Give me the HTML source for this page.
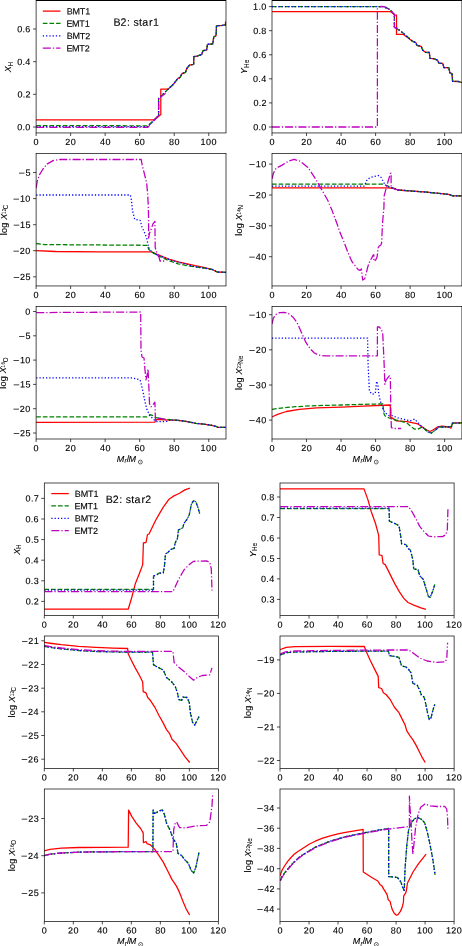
<!DOCTYPE html>
<html><head><meta charset="utf-8"><title>chart</title><style>html,body{margin:0;padding:0;background:#fff;width:462px;height:946px;overflow:hidden;}svg text{stroke:#000;stroke-width:0.12px;stroke-linejoin:round;}</style></head><body>
<svg width="462" height="946" viewBox="0 0 462 946" style="display:block;will-change:transform;font-family:'Liberation Sans', sans-serif;" fill="#000">
<rect x="0" y="0" width="462" height="946" fill="#fff"/>
<defs>
<clipPath id="c0"><rect x="36.1" y="0.55" width="189.90" height="132.40"/></clipPath>
<clipPath id="c1"><rect x="272.0" y="0.55" width="189.90" height="132.40"/></clipPath>
<clipPath id="c2"><rect x="36.1" y="153.45" width="189.90" height="132.50"/></clipPath>
<clipPath id="c3"><rect x="272.0" y="153.45" width="189.90" height="132.50"/></clipPath>
<clipPath id="c4"><rect x="36.1" y="306.4" width="189.90" height="132.60"/></clipPath>
<clipPath id="c5"><rect x="272.0" y="306.4" width="189.90" height="132.60"/></clipPath>
<clipPath id="c6"><rect x="44.3" y="483.0" width="174.10" height="132.50"/></clipPath>
<clipPath id="c7"><rect x="280.0" y="483.0" width="174.10" height="132.50"/></clipPath>
<clipPath id="c8"><rect x="44.3" y="636.0" width="174.10" height="132.40"/></clipPath>
<clipPath id="c9"><rect x="280.0" y="636.0" width="174.10" height="132.40"/></clipPath>
<clipPath id="c10"><rect x="44.3" y="789.0" width="174.10" height="132.40"/></clipPath>
<clipPath id="c11"><rect x="280.0" y="789.0" width="174.10" height="132.40"/></clipPath>
</defs>
<g clip-path="url(#c0)" fill="none" stroke-width="1.27" stroke-linejoin="round">
<polyline points="36.2,119.8 154.7,119.8 160.8,114.6 160.8,89.1 167.7,89.1 168.0,89.3 173.2,84.5 175.2,81.8 178.0,78.4 180.0,77.5 182.0,73.6 185.5,72.3 186.8,68.5 189.5,65.2 193.6,64.4 193.9,56.6 197.0,56.2 201.8,54.3 202.9,50.7 206.6,50.2 207.5,44.3 212.7,43.9 213.8,36.8 216.1,35.7 216.5,25.9 222.3,25.4 225.4,24.8 225.6,21.8 226.5,21.8" stroke="#ff0000" stroke-linecap="square"/>
<polyline points="36.2,125.6 147.8,125.8 158.6,115.5 158.6,98.6 168.0,89.3 173.2,84.5 175.2,81.8 178.0,78.4 180.0,77.5 182.0,73.6 185.5,72.3 186.8,68.5 189.5,65.2 193.6,64.4 193.9,56.6 197.0,56.2 201.8,54.3 202.9,50.7 206.6,50.2 207.5,44.3 212.7,43.9 213.8,36.8 216.1,35.7 216.5,25.9 222.3,25.4 225.4,24.8 226.5,24.8" stroke="#008000" stroke-dasharray="4.65 2.0"/>
<polyline points="36.2,126.6 147.8,126.6 158.6,115.5 158.6,98.6 168.0,89.3 173.2,84.5 175.2,81.8 178.0,78.4 180.0,77.5 182.0,73.6 185.5,72.3 186.8,68.5 189.5,65.2 193.6,64.4 193.9,56.6 197.0,56.2 201.8,54.3 202.9,50.7 206.6,50.2 207.5,44.3 212.7,43.9 213.8,36.8 216.1,35.7 216.5,25.9 222.3,25.4 225.4,24.8 226.5,24.8" stroke="#0000ff" stroke-dasharray="1.26 2.0"/>
<polyline points="36.2,127.3 147.8,127.3 158.6,115.3 158.6,98.6 165.6,93.2" stroke="#bf00bf" stroke-dasharray="8.05 2.0 1.26 2.0"/>
</g>
<rect x="36.1" y="0.55" width="189.90" height="132.40" fill="none" stroke="#000" stroke-width="0.7"/>
<text transform="rotate(0.25 36.10 145.10)"><tspan x="33.60" y="145.10" font-size="9.01">0</tspan></text>
<text transform="rotate(0.25 70.63 145.10)"><tspan x="65.28" y="145.10" font-size="9.01">2</tspan><tspan x="70.80" y="145.10" font-size="9.01">0</tspan></text>
<text transform="rotate(0.25 105.15 145.10)"><tspan x="100.02" y="145.10" font-size="9.01">4</tspan><tspan x="105.43" y="145.10" font-size="9.01">0</tspan></text>
<text transform="rotate(0.25 139.68 145.10)"><tspan x="134.46" y="145.10" font-size="9.01">6</tspan><tspan x="139.86" y="145.10" font-size="9.01">0</tspan></text>
<text transform="rotate(0.25 174.21 145.10)"><tspan x="168.99" y="145.10" font-size="9.01">8</tspan><tspan x="174.40" y="145.10" font-size="9.01">0</tspan></text>
<text transform="rotate(0.25 208.74 145.10)"><tspan x="200.59" y="145.10" font-size="9.01">1</tspan><tspan x="206.05" y="145.10" font-size="9.01">0</tspan><tspan x="211.45" y="145.10" font-size="9.01">0</tspan></text>
<text transform="rotate(0.25 30.00 130.25)"><tspan x="17.24" y="130.25" font-size="9.01">0</tspan><tspan x="22.55" y="130.25" font-size="9.01">.</tspan><tspan x="25.35" y="130.25" font-size="9.01">0</tspan></text>
<text transform="rotate(0.25 30.00 97.55)"><tspan x="17.53" y="97.55" font-size="9.01">0</tspan><tspan x="22.84" y="97.55" font-size="9.01">.</tspan><tspan x="25.53" y="97.55" font-size="9.01">2</tspan></text>
<text transform="rotate(0.25 30.00 64.95)"><tspan x="17.16" y="64.95" font-size="9.01">0</tspan><tspan x="22.46" y="64.95" font-size="9.01">.</tspan><tspan x="25.27" y="64.95" font-size="9.01">4</tspan></text>
<text transform="rotate(0.25 30.00 32.25)"><tspan x="17.21" y="32.25" font-size="9.01">0</tspan><tspan x="22.52" y="32.25" font-size="9.01">.</tspan><tspan x="25.33" y="32.25" font-size="9.01">6</tspan></text>
<path d="M36.10,132.95v3.06 M70.63,132.95v3.06 M105.15,132.95v3.06 M139.68,132.95v3.06 M174.21,132.95v3.06 M208.74,132.95v3.06 M36.1,127.0h-3.06 M36.1,94.3h-3.06 M36.1,61.7h-3.06 M36.1,29.0h-3.06" stroke="#000" stroke-width="0.7" fill="none"/>
<text transform="translate(11.4,72.4) rotate(-90)"><tspan x="0.11" y="0.00" font-size="9.01" font-style="italic">X</tspan><tspan x="6.02" y="1.60" font-size="6.30" stroke-width="0.056">H</tspan></text>
<g clip-path="url(#c1)" fill="none" stroke-width="1.27" stroke-linejoin="round">
<polyline points="271.8,11.7 390.6,11.7 395.4,15.2 396.5,15.2 396.5,34.4 403.5,34.4 412.2,41.1 415.8,42.6 416.9,45.3 421.2,46.4 422.8,50.2 425.5,52.3 429.3,52.5 429.9,58.3 433.6,58.6 437.4,60.1 439.1,63.4 442.8,63.4 443.9,67.5 448.8,67.7 449.9,72.9 452.0,73.7 452.6,81.3 458.5,81.5 462.5,82.8" stroke="#ff0000" stroke-linecap="square"/>
<polyline points="271.8,6.7 384.6,6.7 390.0,9.7 394.4,14.6 394.4,27.6 397.0,28.7 402.5,32.5 406.8,36.3 412.2,41.1 415.8,42.6 416.9,45.3 421.2,46.4 422.8,50.2 425.5,52.3 429.3,52.5 429.9,58.3 433.6,58.6 437.4,60.1 439.1,63.4 442.8,63.4 443.9,67.5 448.8,67.7 449.9,72.9 452.0,73.7 452.6,81.3 458.5,81.5 462.5,82.8" stroke="#008000" stroke-dasharray="4.65 2.0"/>
<polyline points="271.8,6.7 384.6,6.7 390.0,9.7 394.4,14.6 394.4,27.6 397.0,28.7 402.5,32.5 406.8,36.3 412.2,41.1 415.8,42.6 416.9,45.3 421.2,46.4 422.8,50.2 425.5,52.3 429.3,52.5 429.9,58.3 433.6,58.6 437.4,60.1 439.1,63.4 442.8,63.4 443.9,67.5 448.8,67.7 449.9,72.9 452.0,73.7 452.6,81.3 458.5,81.5 462.5,82.8" stroke="#0000ff" stroke-dasharray="1.26 2.0"/>
<polyline points="271.8,127.0 377.4,127.0 377.4,8.7 380.8,6.3 384.3,6.6 386.4,8.7 390.2,9.7 394.4,14.6 394.4,27.5 396.8,27.8 400.5,31.0" stroke="#bf00bf" stroke-dasharray="8.05 2.0 1.26 2.0"/>
</g>
<rect x="272.0" y="0.55" width="189.90" height="132.40" fill="none" stroke="#000" stroke-width="0.7"/>
<text transform="rotate(0.25 272.00 145.10)"><tspan x="269.50" y="145.10" font-size="9.01">0</tspan></text>
<text transform="rotate(0.25 306.53 145.10)"><tspan x="301.18" y="145.10" font-size="9.01">2</tspan><tspan x="306.70" y="145.10" font-size="9.01">0</tspan></text>
<text transform="rotate(0.25 341.05 145.10)"><tspan x="335.92" y="145.10" font-size="9.01">4</tspan><tspan x="341.33" y="145.10" font-size="9.01">0</tspan></text>
<text transform="rotate(0.25 375.58 145.10)"><tspan x="370.36" y="145.10" font-size="9.01">6</tspan><tspan x="375.76" y="145.10" font-size="9.01">0</tspan></text>
<text transform="rotate(0.25 410.11 145.10)"><tspan x="404.89" y="145.10" font-size="9.01">8</tspan><tspan x="410.30" y="145.10" font-size="9.01">0</tspan></text>
<text transform="rotate(0.25 444.64 145.10)"><tspan x="436.49" y="145.10" font-size="9.01">1</tspan><tspan x="441.95" y="145.10" font-size="9.01">0</tspan><tspan x="447.35" y="145.10" font-size="9.01">0</tspan></text>
<text transform="rotate(0.25 265.90 130.25)"><tspan x="253.14" y="130.25" font-size="9.01">0</tspan><tspan x="258.45" y="130.25" font-size="9.01">.</tspan><tspan x="261.25" y="130.25" font-size="9.01">0</tspan></text>
<text transform="rotate(0.25 265.90 106.15)"><tspan x="253.43" y="106.15" font-size="9.01">0</tspan><tspan x="258.74" y="106.15" font-size="9.01">.</tspan><tspan x="261.43" y="106.15" font-size="9.01">2</tspan></text>
<text transform="rotate(0.25 265.90 82.05)"><tspan x="253.06" y="82.05" font-size="9.01">0</tspan><tspan x="258.36" y="82.05" font-size="9.01">.</tspan><tspan x="261.17" y="82.05" font-size="9.01">4</tspan></text>
<text transform="rotate(0.25 265.90 58.05)"><tspan x="253.11" y="58.05" font-size="9.01">0</tspan><tspan x="258.42" y="58.05" font-size="9.01">.</tspan><tspan x="261.23" y="58.05" font-size="9.01">6</tspan></text>
<text transform="rotate(0.25 265.90 33.95)"><tspan x="253.16" y="33.95" font-size="9.01">0</tspan><tspan x="258.47" y="33.95" font-size="9.01">.</tspan><tspan x="261.27" y="33.95" font-size="9.01">8</tspan></text>
<text transform="rotate(0.25 265.90 9.85)"><tspan x="253.10" y="9.85" font-size="9.01">1</tspan><tspan x="258.45" y="9.85" font-size="9.01">.</tspan><tspan x="261.25" y="9.85" font-size="9.01">0</tspan></text>
<path d="M272.00,132.95v3.06 M306.53,132.95v3.06 M341.05,132.95v3.06 M375.58,132.95v3.06 M410.11,132.95v3.06 M444.64,132.95v3.06 M272.0,127.0h-3.06 M272.0,102.9h-3.06 M272.0,78.8h-3.06 M272.0,54.8h-3.06 M272.0,30.7h-3.06 M272.0,6.6h-3.06" stroke="#000" stroke-width="0.7" fill="none"/>
<text transform="translate(247.1,72.9) rotate(-90)"><tspan x="-1.14" y="0.00" font-size="9.01" font-style="italic">Y</tspan><tspan x="4.98" y="1.70" font-size="6.30" stroke-width="0.056">H</tspan><tspan x="9.59" y="1.70" font-size="6.30" stroke-width="0.056">e</tspan></text>
<g clip-path="url(#c2)" fill="none" stroke-width="1.27" stroke-linejoin="round">
<polyline points="36.2,250.6 55.6,251.5 99.0,251.8 151.4,251.8 157.1,254.3 168.6,259.0 178.1,261.9 189.5,264.4 195.2,265.7 204.8,267.6 212.4,269.5 217.1,272.0 226.5,272.4" stroke="#ff0000" stroke-linecap="square"/>
<polyline points="36.2,243.5 44.8,244.6 147.6,245.3 148.6,249.1 151.4,251.8 159.0,256.2 168.6,260.6 178.1,263.8 187.6,265.7 193.3,266.7 204.8,268.2 212.4,269.5 217.1,272.0 226.5,272.4" stroke="#008000" stroke-dasharray="4.65 2.0"/>
<polyline points="36.2,195.0 130.3,195.0 131.4,199.8 132.5,210.6 134.7,219.3 140.1,220.3 141.9,226.7 144.8,233.3 146.7,238.1 148.6,247.6 151.4,251.4 157.1,255.2 162.9,257.1 172.4,260.6 181.9,262.9 193.3,266.3 204.8,268.2 212.4,269.5 217.1,272.0 226.5,272.4" stroke="#0000ff" stroke-dasharray="1.26 2.0"/>
<polyline points="36.2,187.9 37.2,181.4 39.4,174.9 42.7,169.5 47.0,164.1 53.5,160.4 60.0,159.5 141.2,159.5 142.2,165.2 144.4,173.8 146.6,182.5 147.6,193.3 148.3,206.3 148.6,219.3 148.6,238.1 149.5,233.3 151.4,228.6 153.0,223.8 154.9,221.3 155.2,247.6 157.1,253.3 159.0,257.1 160.0,261.0 164.8,261.0" stroke="#bf00bf" stroke-dasharray="8.05 2.0 1.26 2.0"/>
</g>
<rect x="36.1" y="153.45" width="189.90" height="132.50" fill="none" stroke="#000" stroke-width="0.7"/>
<text transform="rotate(0.25 36.10 298.10)"><tspan x="33.60" y="298.10" font-size="9.01">0</tspan></text>
<text transform="rotate(0.25 70.63 298.10)"><tspan x="65.28" y="298.10" font-size="9.01">2</tspan><tspan x="70.80" y="298.10" font-size="9.01">0</tspan></text>
<text transform="rotate(0.25 105.15 298.10)"><tspan x="100.02" y="298.10" font-size="9.01">4</tspan><tspan x="105.43" y="298.10" font-size="9.01">0</tspan></text>
<text transform="rotate(0.25 139.68 298.10)"><tspan x="134.46" y="298.10" font-size="9.01">6</tspan><tspan x="139.86" y="298.10" font-size="9.01">0</tspan></text>
<text transform="rotate(0.25 174.21 298.10)"><tspan x="168.99" y="298.10" font-size="9.01">8</tspan><tspan x="174.40" y="298.10" font-size="9.01">0</tspan></text>
<text transform="rotate(0.25 208.74 298.10)"><tspan x="200.59" y="298.10" font-size="9.01">1</tspan><tspan x="206.05" y="298.10" font-size="9.01">0</tspan><tspan x="211.45" y="298.10" font-size="9.01">0</tspan></text>
<text transform="rotate(0.25 30.00 175.75)"><tspan x="18.57" y="176.73" font-size="10.95">−</tspan><tspan x="25.50" y="175.75" font-size="9.01">5</tspan></text>
<text transform="rotate(0.25 30.00 201.85)"><tspan x="12.99" y="202.83" font-size="10.95">−</tspan><tspan x="19.90" y="201.85" font-size="9.01">1</tspan><tspan x="25.35" y="201.85" font-size="9.01">0</tspan></text>
<text transform="rotate(0.25 30.00 227.95)"><tspan x="13.17" y="228.93" font-size="10.95">−</tspan><tspan x="20.08" y="227.95" font-size="9.01">1</tspan><tspan x="25.50" y="227.95" font-size="9.01">5</tspan></text>
<text transform="rotate(0.25 30.00 253.95)"><tspan x="12.99" y="254.93" font-size="10.95">−</tspan><tspan x="19.83" y="253.95" font-size="9.01">2</tspan><tspan x="25.35" y="253.95" font-size="9.01">0</tspan></text>
<text transform="rotate(0.25 30.00 280.05)"><tspan x="13.17" y="281.03" font-size="10.95">−</tspan><tspan x="20.01" y="280.05" font-size="9.01">2</tspan><tspan x="25.50" y="280.05" font-size="9.01">5</tspan></text>
<path d="M36.10,285.95v3.06 M70.63,285.95v3.06 M105.15,285.95v3.06 M139.68,285.95v3.06 M174.21,285.95v3.06 M208.74,285.95v3.06 M36.1,172.5h-3.06 M36.1,198.6h-3.06 M36.1,224.7h-3.06 M36.1,250.7h-3.06 M36.1,276.8h-3.06" stroke="#000" stroke-width="0.7" fill="none"/>
<text transform="translate(6.8,234.6) rotate(-90)"><tspan x="-0.62" y="0.00" font-size="9.01">l</tspan><tspan x="1.66" y="0.00" font-size="9.01">o</tspan><tspan x="6.90" y="0.00" font-size="9.01">g</tspan><tspan x="14.81" y="0.00" font-size="9.01" font-style="italic">X</tspan><tspan x="20.69" y="-1.10" font-size="4.66" stroke-width="0.031">1</tspan><tspan x="23.46" y="-1.10" font-size="4.66" stroke-width="0.031">2</tspan><tspan x="25.46" y="1.20" font-size="6.30" stroke-width="0.056">C</tspan></text>
<g clip-path="url(#c3)" fill="none" stroke-width="1.27" stroke-linejoin="round">
<polyline points="272.0,187.8 388.0,187.8 394.5,188.5 397.7,190.0 427.0,192.2 448.6,194.4 452.9,195.9 462.5,195.9" stroke="#ff0000" stroke-linecap="square"/>
<polyline points="272.0,184.1 383.6,184.1 386.9,185.7 392.3,187.9 394.5,188.5 397.7,190.0 427.0,192.2 448.6,194.4 452.9,195.9 462.5,195.9" stroke="#008000" stroke-dasharray="4.65 2.0"/>
<polyline points="272.0,186.1 364.2,186.1 367.4,179.2 371.7,177.1 378.2,175.5 381.5,177.7 383.6,182.5 386.9,186.4 394.5,188.5 397.7,190.0 427.0,192.2 448.6,194.4 452.9,195.9 462.5,195.9" stroke="#0000ff" stroke-dasharray="1.26 2.0"/>
<polyline points="272.0,178.8 273.5,173.0 276.1,168.2 282.1,165.1 288.2,161.3 294.2,159.4 300.3,161.3 307.9,167.4 315.5,178.8 321.5,189.4 327.6,200.0 332.1,210.6 337.3,224.5 340.0,232.6 343.9,241.7 347.8,252.1 351.7,261.2 355.6,266.4 358.2,269.6 360.1,270.3 361.4,269.0 362.1,275.5 362.7,280.0 364.7,278.7 366.0,274.2 367.9,266.4 369.9,261.2 371.8,257.9 373.1,255.3 373.8,254.7 374.0,261.2 375.7,259.9 377.0,257.3 377.7,252.1 377.9,248.2 379.0,246.2 380.9,244.9 381.6,243.0 381.8,239.1 382.2,230.0 382.8,220.0 383.9,208.0 384.2,195.7 386.6,186.7 388.3,180.5 390.4,173.5 391.1,173.2 391.1,186.7 394.5,189.1 400.8,190.2" stroke="#bf00bf" stroke-dasharray="8.05 2.0 1.26 2.0"/>
</g>
<rect x="272.0" y="153.45" width="189.90" height="132.50" fill="none" stroke="#000" stroke-width="0.7"/>
<text transform="rotate(0.25 272.00 298.10)"><tspan x="269.50" y="298.10" font-size="9.01">0</tspan></text>
<text transform="rotate(0.25 306.53 298.10)"><tspan x="301.18" y="298.10" font-size="9.01">2</tspan><tspan x="306.70" y="298.10" font-size="9.01">0</tspan></text>
<text transform="rotate(0.25 341.05 298.10)"><tspan x="335.92" y="298.10" font-size="9.01">4</tspan><tspan x="341.33" y="298.10" font-size="9.01">0</tspan></text>
<text transform="rotate(0.25 375.58 298.10)"><tspan x="370.36" y="298.10" font-size="9.01">6</tspan><tspan x="375.76" y="298.10" font-size="9.01">0</tspan></text>
<text transform="rotate(0.25 410.11 298.10)"><tspan x="404.89" y="298.10" font-size="9.01">8</tspan><tspan x="410.30" y="298.10" font-size="9.01">0</tspan></text>
<text transform="rotate(0.25 444.64 298.10)"><tspan x="436.49" y="298.10" font-size="9.01">1</tspan><tspan x="441.95" y="298.10" font-size="9.01">0</tspan><tspan x="447.35" y="298.10" font-size="9.01">0</tspan></text>
<text transform="rotate(0.25 265.90 167.35)"><tspan x="248.89" y="168.33" font-size="10.95">−</tspan><tspan x="255.80" y="167.35" font-size="9.01">1</tspan><tspan x="261.25" y="167.35" font-size="9.01">0</tspan></text>
<text transform="rotate(0.25 265.90 198.25)"><tspan x="248.89" y="199.23" font-size="10.95">−</tspan><tspan x="255.73" y="198.25" font-size="9.01">2</tspan><tspan x="261.25" y="198.25" font-size="9.01">0</tspan></text>
<text transform="rotate(0.25 265.90 229.05)"><tspan x="248.89" y="230.03" font-size="10.95">−</tspan><tspan x="255.86" y="229.05" font-size="9.01">3</tspan><tspan x="261.25" y="229.05" font-size="9.01">0</tspan></text>
<text transform="rotate(0.25 265.90 259.95)"><tspan x="248.89" y="260.93" font-size="10.95">−</tspan><tspan x="255.85" y="259.95" font-size="9.01">4</tspan><tspan x="261.25" y="259.95" font-size="9.01">0</tspan></text>
<path d="M272.00,285.95v3.06 M306.53,285.95v3.06 M341.05,285.95v3.06 M375.58,285.95v3.06 M410.11,285.95v3.06 M444.64,285.95v3.06 M272.0,164.1h-3.06 M272.0,195.0h-3.06 M272.0,225.8h-3.06 M272.0,256.7h-3.06" stroke="#000" stroke-width="0.7" fill="none"/>
<text transform="translate(241.9,235.2) rotate(-90)"><tspan x="-0.62" y="0.00" font-size="9.01">l</tspan><tspan x="1.66" y="0.00" font-size="9.01">o</tspan><tspan x="6.90" y="0.00" font-size="9.01">g</tspan><tspan x="14.81" y="0.00" font-size="9.01" font-style="italic">X</tspan><tspan x="20.69" y="-1.10" font-size="4.66" stroke-width="0.031">1</tspan><tspan x="23.52" y="-1.10" font-size="4.66" stroke-width="0.031">4</tspan><tspan x="25.58" y="1.20" font-size="6.30" stroke-width="0.056">N</tspan></text>
<g clip-path="url(#c4)" fill="none" stroke-width="1.27" stroke-linejoin="round">
<polyline points="36.2,422.3 154.9,422.1 155.9,419.7 159.9,419.7 169.9,420.1 175.8,420.1 185.8,421.3 195.8,423.3 203.7,424.1 211.7,425.3 216.7,426.7 217.7,427.3 226.5,427.3" stroke="#ff0000" stroke-linecap="square"/>
<polyline points="36.2,416.8 147.0,416.8 150.0,414.7 152.9,415.7 155.9,417.7 165.9,419.3 175.8,420.1 185.8,421.3 195.8,423.3 203.7,424.1 211.7,425.3 216.7,426.7 217.7,427.3 226.5,427.3" stroke="#008000" stroke-dasharray="4.65 2.0"/>
<polyline points="36.2,377.9 131.4,377.9 136.8,379.0 140.0,379.9 141.0,382.9 143.0,391.8 145.0,401.8 147.0,409.8 150.0,415.7 153.9,419.7 156.9,421.7 161.9,421.7 167.9,421.3 169.9,420.1 175.8,420.1 185.8,421.3 195.8,423.3 203.7,424.1 211.7,425.3 216.7,426.7 217.7,427.3 226.5,427.3" stroke="#0000ff" stroke-dasharray="1.26 2.0"/>
<polyline points="36.2,312.6 140.7,312.0 141.0,350.0 142.0,357.0 144.0,358.0 145.0,370.0 146.0,379.9 147.0,375.9 148.0,368.9 148.5,379.9 149.0,389.8 149.5,403.8 151.0,406.8 153.0,404.8 154.9,402.2 155.3,415.7 155.5,421.7 156.9,418.7 159.9,418.1 165.9,419.7" stroke="#bf00bf" stroke-dasharray="8.05 2.0 1.26 2.0"/>
</g>
<rect x="36.1" y="306.4" width="189.90" height="132.60" fill="none" stroke="#000" stroke-width="0.7"/>
<text transform="rotate(0.25 36.10 451.15)"><tspan x="33.60" y="451.15" font-size="9.01">0</tspan></text>
<text transform="rotate(0.25 70.63 451.15)"><tspan x="65.28" y="451.15" font-size="9.01">2</tspan><tspan x="70.80" y="451.15" font-size="9.01">0</tspan></text>
<text transform="rotate(0.25 105.15 451.15)"><tspan x="100.02" y="451.15" font-size="9.01">4</tspan><tspan x="105.43" y="451.15" font-size="9.01">0</tspan></text>
<text transform="rotate(0.25 139.68 451.15)"><tspan x="134.46" y="451.15" font-size="9.01">6</tspan><tspan x="139.86" y="451.15" font-size="9.01">0</tspan></text>
<text transform="rotate(0.25 174.21 451.15)"><tspan x="168.99" y="451.15" font-size="9.01">8</tspan><tspan x="174.40" y="451.15" font-size="9.01">0</tspan></text>
<text transform="rotate(0.25 208.74 451.15)"><tspan x="200.59" y="451.15" font-size="9.01">1</tspan><tspan x="206.05" y="451.15" font-size="9.01">0</tspan><tspan x="211.45" y="451.15" font-size="9.01">0</tspan></text>
<text transform="rotate(0.25 30.00 314.75)"><tspan x="25.35" y="314.75" font-size="9.01">0</tspan></text>
<text transform="rotate(0.25 30.00 339.05)"><tspan x="18.57" y="340.03" font-size="10.95">−</tspan><tspan x="25.50" y="339.05" font-size="9.01">5</tspan></text>
<text transform="rotate(0.25 30.00 363.35)"><tspan x="12.99" y="364.33" font-size="10.95">−</tspan><tspan x="19.90" y="363.35" font-size="9.01">1</tspan><tspan x="25.35" y="363.35" font-size="9.01">0</tspan></text>
<text transform="rotate(0.25 30.00 387.65)"><tspan x="13.17" y="388.63" font-size="10.95">−</tspan><tspan x="20.08" y="387.65" font-size="9.01">1</tspan><tspan x="25.50" y="387.65" font-size="9.01">5</tspan></text>
<text transform="rotate(0.25 30.00 411.95)"><tspan x="12.99" y="412.93" font-size="10.95">−</tspan><tspan x="19.83" y="411.95" font-size="9.01">2</tspan><tspan x="25.35" y="411.95" font-size="9.01">0</tspan></text>
<text transform="rotate(0.25 30.00 436.25)"><tspan x="13.17" y="437.23" font-size="10.95">−</tspan><tspan x="20.01" y="436.25" font-size="9.01">2</tspan><tspan x="25.50" y="436.25" font-size="9.01">5</tspan></text>
<path d="M36.10,439.0v3.06 M70.63,439.0v3.06 M105.15,439.0v3.06 M139.68,439.0v3.06 M174.21,439.0v3.06 M208.74,439.0v3.06 M36.1,311.5h-3.06 M36.1,335.8h-3.06 M36.1,360.1h-3.06 M36.1,384.4h-3.06 M36.1,408.7h-3.06 M36.1,433.0h-3.06" stroke="#000" stroke-width="0.7" fill="none"/>
<text transform="translate(6.4,388.1) rotate(-90)"><tspan x="-0.62" y="0.00" font-size="9.01">l</tspan><tspan x="1.66" y="0.00" font-size="9.01">o</tspan><tspan x="6.90" y="0.00" font-size="9.01">g</tspan><tspan x="14.81" y="0.00" font-size="9.01" font-style="italic">X</tspan><tspan x="20.69" y="-1.10" font-size="4.66" stroke-width="0.031">1</tspan><tspan x="23.52" y="-1.10" font-size="4.66" stroke-width="0.031">6</tspan><tspan x="25.75" y="1.20" font-size="6.30" stroke-width="0.056">O</tspan></text>
<text transform="translate(117.15,461.70)"><tspan x="-0.45" y="0.00" font-size="9.01" font-style="italic">M</tspan><tspan x="7.36" y="1.40" font-size="6.30" font-style="italic" stroke-width="0.056">r</tspan><tspan x="9.58" y="0.00" font-size="9.01">/</tspan><tspan x="11.35" y="0.00" font-size="9.01" font-style="italic">M</tspan></text><circle cx="140.35" cy="462.05" r="1.95" fill="none" stroke="#000" stroke-width="0.6"/><circle cx="140.35" cy="462.05" r="0.45"/>
<g clip-path="url(#c5)" fill="none" stroke-width="1.27" stroke-linejoin="round">
<polyline points="272.0,416.9 277.6,414.3 286.3,411.5 299.3,409.3 316.6,407.8 341.6,407.1 363.3,406.1 390.3,405.0 390.3,416.9 392.0,417.9 396.5,420.9 407.2,421.7 417.8,423.9 422.3,427.0 426.8,430.0 429.9,431.5 432.9,430.0 437.5,427.0 442.0,426.2 448.8,427.0 451.1,428.2 452.3,423.2 455.6,422.9 462.5,422.9" stroke="#ff0000" stroke-linecap="square"/>
<polyline points="272.0,409.3 284.1,407.8 295.0,406.7 316.6,405.6 341.6,405.0 363.3,404.3 382.8,403.9 383.9,413.6 384.9,415.8 391.4,419.0 399.6,420.9 407.2,423.2 411.7,427.0 414.7,429.2 417.8,429.2 422.3,427.0 428.4,432.3 431.4,433.0 434.4,430.8 439.0,427.0 448.1,427.0 451.8,426.2 452.6,423.2 462.5,422.9" stroke="#008000" stroke-dasharray="4.65 2.0"/>
<polyline points="272.0,338.1 367.6,338.1 368.1,364.9 369.4,390.9 371.9,394.2 375.2,393.5 376.7,381.2 378.0,386.6 378.9,395.2 380.6,401.7 382.8,408.2 384.9,412.6 389.3,415.8 392.0,415.6 398.1,417.9 404.1,419.4 410.2,420.9 414.7,419.1 417.0,421.7 422.3,427.0 428.4,432.3 431.4,433.0 434.4,430.8 439.0,427.0 448.1,427.0 451.8,426.2 452.6,423.2 462.5,422.9" stroke="#0000ff" stroke-dasharray="1.26 2.0"/>
<polyline points="272.0,323.8 273.3,318.4 275.5,314.7 279.8,312.6 284.1,312.3 288.4,313.4 292.8,316.9 297.1,322.7 301.4,332.5 305.8,342.2 310.1,348.7 314.4,353.0 318.7,355.2 325.2,355.8 377.4,355.8 377.4,327.0 379.5,327.0 381.7,330.3 382.8,334.6 383.9,358.4 384.9,384.4 386.0,380.1 389.3,375.8 390.3,377.9 391.0,416.9 391.4,427.7 393.6,428.5 401.2,428.5" stroke="#bf00bf" stroke-dasharray="8.05 2.0 1.26 2.0"/>
</g>
<rect x="272.0" y="306.4" width="189.90" height="132.60" fill="none" stroke="#000" stroke-width="0.7"/>
<text transform="rotate(0.25 272.00 451.15)"><tspan x="269.50" y="451.15" font-size="9.01">0</tspan></text>
<text transform="rotate(0.25 306.53 451.15)"><tspan x="301.18" y="451.15" font-size="9.01">2</tspan><tspan x="306.70" y="451.15" font-size="9.01">0</tspan></text>
<text transform="rotate(0.25 341.05 451.15)"><tspan x="335.92" y="451.15" font-size="9.01">4</tspan><tspan x="341.33" y="451.15" font-size="9.01">0</tspan></text>
<text transform="rotate(0.25 375.58 451.15)"><tspan x="370.36" y="451.15" font-size="9.01">6</tspan><tspan x="375.76" y="451.15" font-size="9.01">0</tspan></text>
<text transform="rotate(0.25 410.11 451.15)"><tspan x="404.89" y="451.15" font-size="9.01">8</tspan><tspan x="410.30" y="451.15" font-size="9.01">0</tspan></text>
<text transform="rotate(0.25 444.64 451.15)"><tspan x="436.49" y="451.15" font-size="9.01">1</tspan><tspan x="441.95" y="451.15" font-size="9.01">0</tspan><tspan x="447.35" y="451.15" font-size="9.01">0</tspan></text>
<text transform="rotate(0.25 265.90 317.95)"><tspan x="248.89" y="318.93" font-size="10.95">−</tspan><tspan x="255.80" y="317.95" font-size="9.01">1</tspan><tspan x="261.25" y="317.95" font-size="9.01">0</tspan></text>
<text transform="rotate(0.25 265.90 353.05)"><tspan x="248.89" y="354.03" font-size="10.95">−</tspan><tspan x="255.73" y="353.05" font-size="9.01">2</tspan><tspan x="261.25" y="353.05" font-size="9.01">0</tspan></text>
<text transform="rotate(0.25 265.90 388.25)"><tspan x="248.89" y="389.23" font-size="10.95">−</tspan><tspan x="255.86" y="388.25" font-size="9.01">3</tspan><tspan x="261.25" y="388.25" font-size="9.01">0</tspan></text>
<text transform="rotate(0.25 265.90 423.35)"><tspan x="248.89" y="424.33" font-size="10.95">−</tspan><tspan x="255.85" y="423.35" font-size="9.01">4</tspan><tspan x="261.25" y="423.35" font-size="9.01">0</tspan></text>
<path d="M272.00,439.0v3.06 M306.53,439.0v3.06 M341.05,439.0v3.06 M375.58,439.0v3.06 M410.11,439.0v3.06 M444.64,439.0v3.06 M272.0,314.7h-3.06 M272.0,349.8h-3.06 M272.0,385.0h-3.06 M272.0,420.1h-3.06" stroke="#000" stroke-width="0.7" fill="none"/>
<text transform="translate(241.8,389.4) rotate(-90)"><tspan x="-0.62" y="0.00" font-size="9.01">l</tspan><tspan x="1.66" y="0.00" font-size="9.01">o</tspan><tspan x="6.90" y="0.00" font-size="9.01">g</tspan><tspan x="14.81" y="0.00" font-size="9.01" font-style="italic">X</tspan><tspan x="20.82" y="-1.10" font-size="4.66" stroke-width="0.031">2</tspan><tspan x="23.62" y="-1.10" font-size="4.66" stroke-width="0.031">2</tspan><tspan x="25.55" y="1.20" font-size="6.30" stroke-width="0.056">N</tspan><tspan x="30.14" y="1.20" font-size="6.30" stroke-width="0.056">e</tspan></text>
<text transform="translate(353.05,461.70)"><tspan x="-0.45" y="0.00" font-size="9.01" font-style="italic">M</tspan><tspan x="7.36" y="1.40" font-size="6.30" font-style="italic" stroke-width="0.056">r</tspan><tspan x="9.58" y="0.00" font-size="9.01">/</tspan><tspan x="11.35" y="0.00" font-size="9.01" font-style="italic">M</tspan></text><circle cx="376.25" cy="462.05" r="1.95" fill="none" stroke="#000" stroke-width="0.6"/><circle cx="376.25" cy="462.05" r="0.45"/>
<g clip-path="url(#c6)" fill="none" stroke-width="1.27" stroke-linejoin="round">
<polyline points="44.4,609.2 128.2,609.2 131.9,597.0 135.2,584.1 139.5,573.2 142.7,564.6 143.4,542.9 146.0,542.5 147.5,534.7 149.2,533.8 152.5,526.7 155.7,520.2 159.0,514.4 163.3,507.2 168.7,499.6 173.0,496.4 179.5,493.2 184.9,489.9 189.3,488.4" stroke="#ff0000" stroke-linecap="square"/>
<polyline points="44.4,589.4 153.5,589.4 153.5,575.8 155.7,575.4 159.0,573.2 163.3,572.8 164.4,566.7 165.5,553.8 167.6,552.7 170.9,549.4 174.1,548.3 175.2,542.9 177.4,538.6 178.4,530.0 182.8,527.8 183.9,523.5 187.1,519.1 189.3,514.8 191.4,504.0 193.6,500.7 195.8,501.8 197.9,507.2 199.7,513.7" stroke="#008000" stroke-dasharray="4.65 2.0"/>
<polyline points="44.4,590.2 153.5,590.2 153.5,575.8 155.7,575.4 159.0,573.2 163.3,572.8 164.4,566.7 165.5,553.8 167.6,552.7 170.9,549.4 174.1,548.3 175.2,542.9 177.4,538.6 178.4,530.0 182.8,527.8 183.9,523.5 187.1,519.1 189.3,514.8 191.4,504.0 193.6,500.7 195.8,501.8 197.9,507.2 199.7,513.7" stroke="#0000ff" stroke-dasharray="1.26 2.0"/>
<polyline points="44.4,591.6 173.0,591.6 178.4,579.7 183.9,570.0 189.3,564.6 193.6,561.3 206.6,560.9 209.8,562.4 211.3,568.9 212.0,590.6" stroke="#bf00bf" stroke-dasharray="8.05 2.0 1.26 2.0"/>
</g>
<rect x="44.3" y="483.0" width="174.10" height="132.50" fill="none" stroke="#000" stroke-width="0.7"/>
<text transform="rotate(0.25 44.30 627.65)"><tspan x="41.80" y="627.65" font-size="9.01">0</tspan></text>
<text transform="rotate(0.25 73.32 627.65)"><tspan x="67.96" y="627.65" font-size="9.01">2</tspan><tspan x="73.49" y="627.65" font-size="9.01">0</tspan></text>
<text transform="rotate(0.25 102.33 627.65)"><tspan x="97.20" y="627.65" font-size="9.01">4</tspan><tspan x="102.61" y="627.65" font-size="9.01">0</tspan></text>
<text transform="rotate(0.25 131.35 627.65)"><tspan x="126.13" y="627.65" font-size="9.01">6</tspan><tspan x="131.53" y="627.65" font-size="9.01">0</tspan></text>
<text transform="rotate(0.25 160.37 627.65)"><tspan x="155.15" y="627.65" font-size="9.01">8</tspan><tspan x="160.56" y="627.65" font-size="9.01">0</tspan></text>
<text transform="rotate(0.25 189.38 627.65)"><tspan x="181.24" y="627.65" font-size="9.01">1</tspan><tspan x="186.69" y="627.65" font-size="9.01">0</tspan><tspan x="192.10" y="627.65" font-size="9.01">0</tspan></text>
<text transform="rotate(0.25 218.40 627.65)"><tspan x="210.25" y="627.65" font-size="9.01">1</tspan><tspan x="215.60" y="627.65" font-size="9.01">2</tspan><tspan x="221.12" y="627.65" font-size="9.01">0</tspan></text>
<text transform="rotate(0.25 38.20 604.65)"><tspan x="25.73" y="604.65" font-size="9.01">0</tspan><tspan x="31.04" y="604.65" font-size="9.01">.</tspan><tspan x="33.73" y="604.65" font-size="9.01">2</tspan></text>
<text transform="rotate(0.25 38.20 584.05)"><tspan x="25.56" y="584.05" font-size="9.01">0</tspan><tspan x="30.87" y="584.05" font-size="9.01">.</tspan><tspan x="33.68" y="584.05" font-size="9.01">3</tspan></text>
<text transform="rotate(0.25 38.20 563.45)"><tspan x="25.36" y="563.45" font-size="9.01">0</tspan><tspan x="30.66" y="563.45" font-size="9.01">.</tspan><tspan x="33.47" y="563.45" font-size="9.01">4</tspan></text>
<text transform="rotate(0.25 38.20 542.85)"><tspan x="25.62" y="542.85" font-size="9.01">0</tspan><tspan x="30.93" y="542.85" font-size="9.01">.</tspan><tspan x="33.70" y="542.85" font-size="9.01">5</tspan></text>
<text transform="rotate(0.25 38.20 522.25)"><tspan x="25.41" y="522.25" font-size="9.01">0</tspan><tspan x="30.72" y="522.25" font-size="9.01">.</tspan><tspan x="33.53" y="522.25" font-size="9.01">6</tspan></text>
<text transform="rotate(0.25 38.20 501.65)"><tspan x="25.61" y="501.65" font-size="9.01">0</tspan><tspan x="30.91" y="501.65" font-size="9.01">.</tspan><tspan x="33.70" y="501.65" font-size="9.01">7</tspan></text>
<path d="M44.30,615.5v3.06 M73.32,615.5v3.06 M102.33,615.5v3.06 M131.35,615.5v3.06 M160.37,615.5v3.06 M189.38,615.5v3.06 M218.40,615.5v3.06 M44.3,601.4h-3.06 M44.3,580.8h-3.06 M44.3,560.2h-3.06 M44.3,539.6h-3.06 M44.3,519.0h-3.06 M44.3,498.4h-3.06" stroke="#000" stroke-width="0.7" fill="none"/>
<text transform="translate(19.5,554.9) rotate(-90)"><tspan x="0.11" y="0.00" font-size="9.01" font-style="italic">X</tspan><tspan x="6.02" y="1.60" font-size="6.30" stroke-width="0.056">H</tspan></text>
<g clip-path="url(#c7)" fill="none" stroke-width="1.27" stroke-linejoin="round">
<polyline points="280.3,488.9 364.0,488.9 367.9,499.6 371.2,511.5 375.5,523.5 378.7,535.4 379.2,554.8 382.0,555.5 383.1,563.5 385.2,564.6 388.5,571.1 391.7,577.6 395.0,584.1 399.3,591.6 403.6,598.1 408.0,602.5 414.4,605.3 420.9,607.9 425.3,609.2" stroke="#ff0000" stroke-linecap="square"/>
<polyline points="280.3,508.7 389.1,508.7 389.4,521.2 393.8,523.0 399.0,525.6 400.7,536.0 401.6,543.8 405.9,544.6 408.5,548.9 410.2,549.8 411.9,555.9 412.8,559.3 413.7,568.8 418.0,569.7 419.7,575.8 423.2,579.2 425.8,587.9 428.4,596.5 430.2,597.4 432.7,591.3 434.8,584.4" stroke="#008000" stroke-dasharray="4.65 2.0"/>
<polyline points="280.3,508.2 389.1,508.2 389.4,521.2 393.8,523.0 399.0,525.6 400.7,536.0 401.6,543.8 405.9,544.6 408.5,548.9 410.2,549.8 411.9,555.9 412.8,559.3 413.7,568.8 418.0,569.7 419.7,575.8 423.2,579.2 425.8,587.9 428.4,596.5 430.2,597.4 432.7,591.3 434.8,584.4" stroke="#0000ff" stroke-dasharray="1.26 2.0"/>
<polyline points="280.3,506.6 408.5,506.6 412.0,511.7 415.4,517.8 419.7,526.4 424.1,531.6 428.4,536.0 432.7,536.8 442.6,536.6 445.8,534.7 447.3,530.0 448.0,507.2" stroke="#bf00bf" stroke-dasharray="8.05 2.0 1.26 2.0"/>
</g>
<rect x="280.0" y="483.0" width="174.10" height="132.50" fill="none" stroke="#000" stroke-width="0.7"/>
<text transform="rotate(0.25 280.00 627.65)"><tspan x="277.50" y="627.65" font-size="9.01">0</tspan></text>
<text transform="rotate(0.25 309.02 627.65)"><tspan x="303.66" y="627.65" font-size="9.01">2</tspan><tspan x="309.19" y="627.65" font-size="9.01">0</tspan></text>
<text transform="rotate(0.25 338.03 627.65)"><tspan x="332.90" y="627.65" font-size="9.01">4</tspan><tspan x="338.31" y="627.65" font-size="9.01">0</tspan></text>
<text transform="rotate(0.25 367.05 627.65)"><tspan x="361.83" y="627.65" font-size="9.01">6</tspan><tspan x="367.23" y="627.65" font-size="9.01">0</tspan></text>
<text transform="rotate(0.25 396.07 627.65)"><tspan x="390.85" y="627.65" font-size="9.01">8</tspan><tspan x="396.26" y="627.65" font-size="9.01">0</tspan></text>
<text transform="rotate(0.25 425.08 627.65)"><tspan x="416.94" y="627.65" font-size="9.01">1</tspan><tspan x="422.39" y="627.65" font-size="9.01">0</tspan><tspan x="427.80" y="627.65" font-size="9.01">0</tspan></text>
<text transform="rotate(0.25 454.10 627.65)"><tspan x="445.95" y="627.65" font-size="9.01">1</tspan><tspan x="451.30" y="627.65" font-size="9.01">2</tspan><tspan x="456.82" y="627.65" font-size="9.01">0</tspan></text>
<text transform="rotate(0.25 273.90 602.65)"><tspan x="261.26" y="602.65" font-size="9.01">0</tspan><tspan x="266.57" y="602.65" font-size="9.01">.</tspan><tspan x="269.38" y="602.65" font-size="9.01">3</tspan></text>
<text transform="rotate(0.25 273.90 582.15)"><tspan x="261.06" y="582.15" font-size="9.01">0</tspan><tspan x="266.36" y="582.15" font-size="9.01">.</tspan><tspan x="269.17" y="582.15" font-size="9.01">4</tspan></text>
<text transform="rotate(0.25 273.90 561.75)"><tspan x="261.32" y="561.75" font-size="9.01">0</tspan><tspan x="266.63" y="561.75" font-size="9.01">.</tspan><tspan x="269.40" y="561.75" font-size="9.01">5</tspan></text>
<text transform="rotate(0.25 273.90 541.25)"><tspan x="261.11" y="541.25" font-size="9.01">0</tspan><tspan x="266.42" y="541.25" font-size="9.01">.</tspan><tspan x="269.23" y="541.25" font-size="9.01">6</tspan></text>
<text transform="rotate(0.25 273.90 520.75)"><tspan x="261.31" y="520.75" font-size="9.01">0</tspan><tspan x="266.61" y="520.75" font-size="9.01">.</tspan><tspan x="269.40" y="520.75" font-size="9.01">7</tspan></text>
<text transform="rotate(0.25 273.90 500.25)"><tspan x="261.16" y="500.25" font-size="9.01">0</tspan><tspan x="266.47" y="500.25" font-size="9.01">.</tspan><tspan x="269.27" y="500.25" font-size="9.01">8</tspan></text>
<path d="M280.00,615.5v3.06 M309.02,615.5v3.06 M338.03,615.5v3.06 M367.05,615.5v3.06 M396.07,615.5v3.06 M425.08,615.5v3.06 M454.10,615.5v3.06 M280.0,599.4h-3.06 M280.0,578.9h-3.06 M280.0,558.5h-3.06 M280.0,538.0h-3.06 M280.0,517.5h-3.06 M280.0,497.0h-3.06" stroke="#000" stroke-width="0.7" fill="none"/>
<text transform="translate(255.5,556.0) rotate(-90)"><tspan x="-1.14" y="0.00" font-size="9.01" font-style="italic">Y</tspan><tspan x="4.98" y="1.70" font-size="6.30" stroke-width="0.056">H</tspan><tspan x="9.59" y="1.70" font-size="6.30" stroke-width="0.056">e</tspan></text>
<g clip-path="url(#c8)" fill="none" stroke-width="1.27" stroke-linejoin="round">
<polyline points="44.3,642.4 52.0,643.5 61.3,644.7 78.6,646.4 96.0,647.4 113.3,648.1 127.6,648.5 128.2,653.8 130.8,659.2 135.2,667.9 139.5,675.5 142.7,682.0 143.2,691.7 146.0,692.8 147.7,697.5 150.3,700.3 154.6,706.8 159.0,715.5 163.3,723.1 166.5,729.6 169.8,733.9 172.0,739.3 176.3,743.6 180.6,750.1 184.9,756.6 189.3,762.0" stroke="#ff0000" stroke-linecap="square"/>
<polyline points="44.3,646.3 52.0,647.6 61.3,648.8 78.6,650.5 96.0,651.5 113.3,651.9 126.6,652.2 152.5,652.2 153.5,664.6 156.8,666.8 163.3,670.0 166.5,677.6 170.9,680.9 175.2,686.3 177.4,692.8 178.9,699.7 181.7,700.3 182.8,697.1 187.1,697.5 189.3,702.5 190.3,712.3 192.5,722.0 194.7,725.2 196.8,720.9 199.0,716.6" stroke="#008000" stroke-dasharray="4.65 2.0"/>
<polyline points="44.3,646.3 52.0,647.6 61.3,648.8 78.6,650.5 96.0,651.5 113.3,651.9 126.6,652.2 152.5,652.2 153.5,664.6 156.8,666.8 163.3,670.0 166.5,677.6 170.9,680.9 175.2,686.3 177.4,692.8 178.9,699.7 181.7,700.3 182.8,697.1 187.1,697.5 189.3,702.5 190.3,712.3 192.5,722.0 194.7,725.2 196.8,720.9 199.0,716.6" stroke="#0000ff" stroke-dasharray="1.26 2.0"/>
<polyline points="44.3,645.5 52.0,646.8 61.3,648.0 78.6,649.7 96.0,650.7 113.3,651.1 126.6,651.4 173.0,651.4 174.1,662.5 178.4,666.8 184.9,672.2 189.3,676.5 193.6,680.2 197.9,677.2 202.3,675.5 209.8,674.8 212.0,667.9" stroke="#bf00bf" stroke-dasharray="8.05 2.0 1.26 2.0"/>
</g>
<rect x="44.3" y="636.0" width="174.10" height="132.40" fill="none" stroke="#000" stroke-width="0.7"/>
<text transform="rotate(0.25 44.30 780.55)"><tspan x="41.80" y="780.55" font-size="9.01">0</tspan></text>
<text transform="rotate(0.25 73.32 780.55)"><tspan x="67.96" y="780.55" font-size="9.01">2</tspan><tspan x="73.49" y="780.55" font-size="9.01">0</tspan></text>
<text transform="rotate(0.25 102.33 780.55)"><tspan x="97.20" y="780.55" font-size="9.01">4</tspan><tspan x="102.61" y="780.55" font-size="9.01">0</tspan></text>
<text transform="rotate(0.25 131.35 780.55)"><tspan x="126.13" y="780.55" font-size="9.01">6</tspan><tspan x="131.53" y="780.55" font-size="9.01">0</tspan></text>
<text transform="rotate(0.25 160.37 780.55)"><tspan x="155.15" y="780.55" font-size="9.01">8</tspan><tspan x="160.56" y="780.55" font-size="9.01">0</tspan></text>
<text transform="rotate(0.25 189.38 780.55)"><tspan x="181.24" y="780.55" font-size="9.01">1</tspan><tspan x="186.69" y="780.55" font-size="9.01">0</tspan><tspan x="192.10" y="780.55" font-size="9.01">0</tspan></text>
<text transform="rotate(0.25 218.40 780.55)"><tspan x="210.25" y="780.55" font-size="9.01">1</tspan><tspan x="215.60" y="780.55" font-size="9.01">2</tspan><tspan x="221.12" y="780.55" font-size="9.01">0</tspan></text>
<text transform="rotate(0.25 38.20 644.05)"><tspan x="21.41" y="645.03" font-size="10.95">−</tspan><tspan x="28.25" y="644.05" font-size="9.01">2</tspan><tspan x="33.73" y="644.05" font-size="9.01">1</tspan></text>
<text transform="rotate(0.25 38.20 667.75)"><tspan x="21.47" y="668.73" font-size="10.95">−</tspan><tspan x="28.32" y="667.75" font-size="9.01">2</tspan><tspan x="33.73" y="667.75" font-size="9.01">2</tspan></text>
<text transform="rotate(0.25 38.20 691.45)"><tspan x="21.30" y="692.43" font-size="10.95">−</tspan><tspan x="28.15" y="691.45" font-size="9.01">2</tspan><tspan x="33.68" y="691.45" font-size="9.01">3</tspan></text>
<text transform="rotate(0.25 38.20 715.05)"><tspan x="21.10" y="716.03" font-size="10.95">−</tspan><tspan x="27.95" y="715.05" font-size="9.01">2</tspan><tspan x="33.47" y="715.05" font-size="9.01">4</tspan></text>
<text transform="rotate(0.25 38.20 738.75)"><tspan x="21.37" y="739.73" font-size="10.95">−</tspan><tspan x="28.21" y="738.75" font-size="9.01">2</tspan><tspan x="33.70" y="738.75" font-size="9.01">5</tspan></text>
<text transform="rotate(0.25 38.20 762.45)"><tspan x="21.16" y="763.43" font-size="10.95">−</tspan><tspan x="28.00" y="762.45" font-size="9.01">2</tspan><tspan x="33.53" y="762.45" font-size="9.01">6</tspan></text>
<path d="M44.30,768.4v3.06 M73.32,768.4v3.06 M102.33,768.4v3.06 M131.35,768.4v3.06 M160.37,768.4v3.06 M189.38,768.4v3.06 M218.40,768.4v3.06 M44.3,640.8h-3.06 M44.3,664.5h-3.06 M44.3,688.2h-3.06 M44.3,711.8h-3.06 M44.3,735.5h-3.06 M44.3,759.2h-3.06" stroke="#000" stroke-width="0.7" fill="none"/>
<text transform="translate(14.9,717.0) rotate(-90)"><tspan x="-0.62" y="0.00" font-size="9.01">l</tspan><tspan x="1.66" y="0.00" font-size="9.01">o</tspan><tspan x="6.90" y="0.00" font-size="9.01">g</tspan><tspan x="14.81" y="0.00" font-size="9.01" font-style="italic">X</tspan><tspan x="20.69" y="-1.10" font-size="4.66" stroke-width="0.031">1</tspan><tspan x="23.46" y="-1.10" font-size="4.66" stroke-width="0.031">2</tspan><tspan x="25.46" y="1.20" font-size="6.30" stroke-width="0.056">C</tspan></text>
<g clip-path="url(#c9)" fill="none" stroke-width="1.27" stroke-linejoin="round">
<polyline points="280.3,649.5 286.3,647.3 294.9,646.7 330.0,646.4 364.3,646.5 366.9,653.0 370.4,660.8 374.7,669.4 378.2,676.4 378.7,687.6 381.6,688.5 383.4,692.8 386.0,694.5 390.3,699.7 394.6,707.5 399.0,712.7 402.4,719.6 405.0,724.8 406.8,730.9 410.2,736.1 412.8,739.6 416.3,745.6 419.7,752.5 422.3,757.7 424.9,762.0" stroke="#ff0000" stroke-linecap="square"/>
<polyline points="280.3,654.9 286.3,652.7 294.9,652.0 330.0,651.4 388.5,651.0 389.4,655.6 394.6,656.4 399.0,657.3 401.6,666.0 405.9,666.8 408.5,669.4 411.1,672.9 412.8,683.3 417.1,685.0 419.7,690.2 421.5,695.4 424.1,697.1 425.8,704.1 427.5,712.7 429.3,719.6 431.0,717.9 432.7,711.0 434.8,704.1" stroke="#008000" stroke-dasharray="4.65 2.0"/>
<polyline points="280.3,654.9 286.3,652.7 294.9,652.0 330.0,651.4 388.5,651.0 389.4,655.6 394.6,656.4 399.0,657.3 401.6,666.0 405.9,666.8 408.5,669.4 411.1,672.9 412.8,683.3 417.1,685.0 419.7,690.2 421.5,695.4 424.1,697.1 425.8,704.1 427.5,712.7 429.3,719.6 431.0,717.9 432.7,711.0 434.8,704.1" stroke="#0000ff" stroke-dasharray="1.26 2.0"/>
<polyline points="280.3,653.9 286.3,651.7 294.9,651.0 330.0,650.4 388.5,650.0 408.8,650.0 414.4,653.9 420.0,658.1 427.1,661.0 436.9,662.4 445.4,661.8 446.8,658.1 447.6,642.7" stroke="#bf00bf" stroke-dasharray="8.05 2.0 1.26 2.0"/>
</g>
<rect x="280.0" y="636.0" width="174.10" height="132.40" fill="none" stroke="#000" stroke-width="0.7"/>
<text transform="rotate(0.25 280.00 780.55)"><tspan x="277.50" y="780.55" font-size="9.01">0</tspan></text>
<text transform="rotate(0.25 309.02 780.55)"><tspan x="303.66" y="780.55" font-size="9.01">2</tspan><tspan x="309.19" y="780.55" font-size="9.01">0</tspan></text>
<text transform="rotate(0.25 338.03 780.55)"><tspan x="332.90" y="780.55" font-size="9.01">4</tspan><tspan x="338.31" y="780.55" font-size="9.01">0</tspan></text>
<text transform="rotate(0.25 367.05 780.55)"><tspan x="361.83" y="780.55" font-size="9.01">6</tspan><tspan x="367.23" y="780.55" font-size="9.01">0</tspan></text>
<text transform="rotate(0.25 396.07 780.55)"><tspan x="390.85" y="780.55" font-size="9.01">8</tspan><tspan x="396.26" y="780.55" font-size="9.01">0</tspan></text>
<text transform="rotate(0.25 425.08 780.55)"><tspan x="416.94" y="780.55" font-size="9.01">1</tspan><tspan x="422.39" y="780.55" font-size="9.01">0</tspan><tspan x="427.80" y="780.55" font-size="9.01">0</tspan></text>
<text transform="rotate(0.25 454.10 780.55)"><tspan x="445.95" y="780.55" font-size="9.01">1</tspan><tspan x="451.30" y="780.55" font-size="9.01">2</tspan><tspan x="456.82" y="780.55" font-size="9.01">0</tspan></text>
<text transform="rotate(0.25 273.90 663.15)"><tspan x="256.92" y="664.13" font-size="10.95">−</tspan><tspan x="263.83" y="663.15" font-size="9.01">1</tspan><tspan x="269.26" y="663.15" font-size="9.01">9</tspan></text>
<text transform="rotate(0.25 273.90 696.65)"><tspan x="256.89" y="697.63" font-size="10.95">−</tspan><tspan x="263.73" y="696.65" font-size="9.01">2</tspan><tspan x="269.25" y="696.65" font-size="9.01">0</tspan></text>
<text transform="rotate(0.25 273.90 730.25)"><tspan x="257.11" y="731.23" font-size="10.95">−</tspan><tspan x="263.95" y="730.25" font-size="9.01">2</tspan><tspan x="269.43" y="730.25" font-size="9.01">1</tspan></text>
<text transform="rotate(0.25 273.90 763.75)"><tspan x="257.17" y="764.73" font-size="10.95">−</tspan><tspan x="264.02" y="763.75" font-size="9.01">2</tspan><tspan x="269.43" y="763.75" font-size="9.01">2</tspan></text>
<path d="M280.00,768.4v3.06 M309.02,768.4v3.06 M338.03,768.4v3.06 M367.05,768.4v3.06 M396.07,768.4v3.06 M425.08,768.4v3.06 M454.10,768.4v3.06 M280.0,659.9h-3.06 M280.0,693.4h-3.06 M280.0,727.0h-3.06 M280.0,760.5h-3.06" stroke="#000" stroke-width="0.7" fill="none"/>
<text transform="translate(250.6,717.7) rotate(-90)"><tspan x="-0.62" y="0.00" font-size="9.01">l</tspan><tspan x="1.66" y="0.00" font-size="9.01">o</tspan><tspan x="6.90" y="0.00" font-size="9.01">g</tspan><tspan x="14.81" y="0.00" font-size="9.01" font-style="italic">X</tspan><tspan x="20.69" y="-1.10" font-size="4.66" stroke-width="0.031">1</tspan><tspan x="23.52" y="-1.10" font-size="4.66" stroke-width="0.031">4</tspan><tspan x="25.58" y="1.20" font-size="6.30" stroke-width="0.056">N</tspan></text>
<g clip-path="url(#c10)" fill="none" stroke-width="1.27" stroke-linejoin="round">
<polyline points="44.3,850.8 50.0,849.4 61.3,848.1 78.6,847.5 104.9,847.3 128.2,847.2 128.6,810.1 131.9,816.6 136.2,823.1 140.6,828.5 143.2,832.9 143.4,842.6 146.0,841.5 147.1,843.7 150.3,844.8 154.6,849.1 159.0,855.6 163.3,862.1 167.6,870.7 171.9,879.4 176.3,885.9 179.5,892.4 182.8,901.0 186.0,908.6 189.3,914.5" stroke="#ff0000" stroke-linecap="square"/>
<polyline points="44.3,855.6 50.0,854.2 61.3,853.0 78.6,852.1 104.9,851.8 124.0,851.6 152.9,851.7 153.1,810.1 154.6,813.4 159.0,811.2 162.2,809.7 164.4,814.5 166.5,823.1 169.8,829.6 173.0,838.3 176.3,843.7 178.0,853.4 181.7,855.6 184.9,859.9 188.2,863.2 191.4,870.7 193.6,872.9 195.8,867.5 199.0,852.3" stroke="#008000" stroke-dasharray="4.65 2.0"/>
<polyline points="44.3,855.6 50.0,854.2 61.3,853.0 78.6,852.1 104.9,851.8 124.0,851.6 152.9,851.7 153.1,810.1 154.6,813.4 159.0,811.2 162.2,809.7 164.4,814.5 166.5,823.1 169.8,829.6 173.0,838.3 176.3,843.7 178.0,853.4 181.7,855.6 184.9,859.9 188.2,863.2 191.4,870.7 193.6,872.9 195.8,867.5 199.0,852.3" stroke="#0000ff" stroke-dasharray="1.26 2.0"/>
<polyline points="44.3,855.6 50.0,854.2 61.3,853.0 78.6,852.1 104.9,851.8 124.0,851.6 173.0,851.7 173.7,829.6 175.2,823.1 176.7,822.0 179.5,827.5 184.9,827.9 195.8,825.9 206.6,825.3 209.8,822.0 212.0,805.8 212.6,795.0" stroke="#bf00bf" stroke-dasharray="8.05 2.0 1.26 2.0"/>
</g>
<rect x="44.3" y="789.0" width="174.10" height="132.40" fill="none" stroke="#000" stroke-width="0.7"/>
<text transform="rotate(0.25 44.30 933.55)"><tspan x="41.80" y="933.55" font-size="9.01">0</tspan></text>
<text transform="rotate(0.25 73.32 933.55)"><tspan x="67.96" y="933.55" font-size="9.01">2</tspan><tspan x="73.49" y="933.55" font-size="9.01">0</tspan></text>
<text transform="rotate(0.25 102.33 933.55)"><tspan x="97.20" y="933.55" font-size="9.01">4</tspan><tspan x="102.61" y="933.55" font-size="9.01">0</tspan></text>
<text transform="rotate(0.25 131.35 933.55)"><tspan x="126.13" y="933.55" font-size="9.01">6</tspan><tspan x="131.53" y="933.55" font-size="9.01">0</tspan></text>
<text transform="rotate(0.25 160.37 933.55)"><tspan x="155.15" y="933.55" font-size="9.01">8</tspan><tspan x="160.56" y="933.55" font-size="9.01">0</tspan></text>
<text transform="rotate(0.25 189.38 933.55)"><tspan x="181.24" y="933.55" font-size="9.01">1</tspan><tspan x="186.69" y="933.55" font-size="9.01">0</tspan><tspan x="192.10" y="933.55" font-size="9.01">0</tspan></text>
<text transform="rotate(0.25 218.40 933.55)"><tspan x="210.25" y="933.55" font-size="9.01">1</tspan><tspan x="215.60" y="933.55" font-size="9.01">2</tspan><tspan x="221.12" y="933.55" font-size="9.01">0</tspan></text>
<text transform="rotate(0.25 38.20 821.75)"><tspan x="21.30" y="822.73" font-size="10.95">−</tspan><tspan x="28.15" y="821.75" font-size="9.01">2</tspan><tspan x="33.68" y="821.75" font-size="9.01">3</tspan></text>
<text transform="rotate(0.25 38.20 858.95)"><tspan x="21.10" y="859.93" font-size="10.95">−</tspan><tspan x="27.95" y="858.95" font-size="9.01">2</tspan><tspan x="33.47" y="858.95" font-size="9.01">4</tspan></text>
<text transform="rotate(0.25 38.20 896.15)"><tspan x="21.37" y="897.13" font-size="10.95">−</tspan><tspan x="28.21" y="896.15" font-size="9.01">2</tspan><tspan x="33.70" y="896.15" font-size="9.01">5</tspan></text>
<path d="M44.30,921.4v3.06 M73.32,921.4v3.06 M102.33,921.4v3.06 M131.35,921.4v3.06 M160.37,921.4v3.06 M189.38,921.4v3.06 M218.40,921.4v3.06 M44.3,818.5h-3.06 M44.3,855.7h-3.06 M44.3,892.9h-3.06" stroke="#000" stroke-width="0.7" fill="none"/>
<text transform="translate(14.6,870.6) rotate(-90)"><tspan x="-0.62" y="0.00" font-size="9.01">l</tspan><tspan x="1.66" y="0.00" font-size="9.01">o</tspan><tspan x="6.90" y="0.00" font-size="9.01">g</tspan><tspan x="14.81" y="0.00" font-size="9.01" font-style="italic">X</tspan><tspan x="20.69" y="-1.10" font-size="4.66" stroke-width="0.031">1</tspan><tspan x="23.52" y="-1.10" font-size="4.66" stroke-width="0.031">6</tspan><tspan x="25.75" y="1.20" font-size="6.30" stroke-width="0.056">O</tspan></text>
<text transform="translate(117.45,944.10)"><tspan x="-0.45" y="0.00" font-size="9.01" font-style="italic">M</tspan><tspan x="7.36" y="1.40" font-size="6.30" font-style="italic" stroke-width="0.056">r</tspan><tspan x="9.58" y="0.00" font-size="9.01">/</tspan><tspan x="11.35" y="0.00" font-size="9.01" font-style="italic">M</tspan></text><circle cx="140.65" cy="944.45" r="1.95" fill="none" stroke="#000" stroke-width="0.6"/><circle cx="140.65" cy="944.45" r="0.45"/>
<g clip-path="url(#c11)" fill="none" stroke-width="1.27" stroke-linejoin="round">
<polyline points="280.3,875.3 281.9,870.5 284.5,866.0 287.7,861.4 291.0,857.5 294.2,854.3 297.5,851.7 300.7,849.7 304.5,847.3 309.1,844.2 315.2,841.2 322.7,838.2 330.3,835.9 337.9,833.9 345.5,832.4 353.0,831.1 360.6,829.8 363.1,829.4 363.3,872.0 372.2,877.7 377.8,881.0 380.1,884.7 382.1,886.1 383.5,888.9 385.0,891.1 387.2,894.9 388.2,899.7 390.1,901.4 391.0,905.2 392.0,908.9 394.2,913.3 396.4,915.2 398.0,914.6 400.2,911.6 401.8,908.4 402.6,905.7 403.4,902.4 403.7,896.0 404.5,894.6 405.6,893.2 406.4,890.5 407.4,883.3 413.0,872.0 418.6,863.6 425.7,854.6" stroke="#ff0000" stroke-linecap="square"/>
<polyline points="280.3,880.4 281.9,876.9 284.5,873.0 287.7,869.1 291.0,865.2 294.2,862.0 297.5,858.7 300.7,856.1 307.6,851.7 315.2,847.2 322.7,844.1 330.3,841.1 337.9,838.8 345.5,836.6 353.0,835.1 360.6,833.5 370.0,831.7 378.0,830.2 388.7,828.5 388.7,876.6 397.3,877.4 400.8,881.8 402.5,887.0 404.2,890.4 405.1,867.9 406.8,845.4 408.6,829.8 411.2,822.9 414.6,818.6 418.1,817.7 421.6,819.4 424.7,822.9 427.6,833.3 430.2,845.4 432.8,859.3 435.1,874.8" stroke="#008000" stroke-dasharray="4.65 2.0"/>
<polyline points="280.3,880.4 281.9,876.9 284.5,873.0 287.7,869.1 291.0,865.2 294.2,862.0 297.5,858.7 300.7,856.1 307.6,851.7 315.2,847.2 322.7,844.1 330.3,841.1 337.9,838.8 345.5,836.6 353.0,835.1 360.6,833.5 370.0,831.7 378.0,830.2 388.7,828.5 388.7,876.6 397.3,877.4 400.8,881.8 402.5,887.0 404.2,890.4 405.1,867.9 406.8,845.4 408.6,829.8 411.2,822.9 414.6,818.6 418.1,817.7 421.6,819.4 424.7,822.9 427.6,833.3 430.2,845.4 432.8,859.3 435.1,874.8" stroke="#0000ff" stroke-dasharray="1.26 2.0"/>
<polyline points="280.3,881.0 281.9,877.5 284.5,873.6 287.7,869.7 291.0,865.8 294.2,862.6 297.5,859.3 300.7,856.7 307.6,852.3 315.2,847.8 322.7,844.7 330.3,841.7 337.9,839.4 345.5,837.2 353.0,835.7 360.6,834.1 370.0,832.3 378.0,830.8 388.7,829.1 409.4,826.4 409.4,796.1 410.3,812.5 411.2,824.6 412.0,842.0 412.9,854.1 413.8,845.4 415.5,828.1 418.1,814.2 420.7,807.3 425.0,803.9 430.2,805.9 437.1,806.5 444.9,806.5 446.7,809.0 447.5,816.0 447.9,829.8" stroke="#bf00bf" stroke-dasharray="8.05 2.0 1.26 2.0"/>
</g>
<rect x="280.0" y="789.0" width="174.10" height="132.40" fill="none" stroke="#000" stroke-width="0.7"/>
<text transform="rotate(0.25 280.00 933.55)"><tspan x="277.50" y="933.55" font-size="9.01">0</tspan></text>
<text transform="rotate(0.25 309.02 933.55)"><tspan x="303.66" y="933.55" font-size="9.01">2</tspan><tspan x="309.19" y="933.55" font-size="9.01">0</tspan></text>
<text transform="rotate(0.25 338.03 933.55)"><tspan x="332.90" y="933.55" font-size="9.01">4</tspan><tspan x="338.31" y="933.55" font-size="9.01">0</tspan></text>
<text transform="rotate(0.25 367.05 933.55)"><tspan x="361.83" y="933.55" font-size="9.01">6</tspan><tspan x="367.23" y="933.55" font-size="9.01">0</tspan></text>
<text transform="rotate(0.25 396.07 933.55)"><tspan x="390.85" y="933.55" font-size="9.01">8</tspan><tspan x="396.26" y="933.55" font-size="9.01">0</tspan></text>
<text transform="rotate(0.25 425.08 933.55)"><tspan x="416.94" y="933.55" font-size="9.01">1</tspan><tspan x="422.39" y="933.55" font-size="9.01">0</tspan><tspan x="427.80" y="933.55" font-size="9.01">0</tspan></text>
<text transform="rotate(0.25 454.10 933.55)"><tspan x="445.95" y="933.55" font-size="9.01">1</tspan><tspan x="451.30" y="933.55" font-size="9.01">2</tspan><tspan x="456.82" y="933.55" font-size="9.01">0</tspan></text>
<text transform="rotate(0.25 273.90 811.25)"><tspan x="256.80" y="812.23" font-size="10.95">−</tspan><tspan x="263.77" y="811.25" font-size="9.01">3</tspan><tspan x="269.17" y="811.25" font-size="9.01">4</tspan></text>
<text transform="rotate(0.25 273.90 831.45)"><tspan x="256.86" y="832.43" font-size="10.95">−</tspan><tspan x="263.83" y="831.45" font-size="9.01">3</tspan><tspan x="269.23" y="831.45" font-size="9.01">6</tspan></text>
<text transform="rotate(0.25 273.90 851.65)"><tspan x="256.90" y="852.63" font-size="10.95">−</tspan><tspan x="263.87" y="851.65" font-size="9.01">3</tspan><tspan x="269.27" y="851.65" font-size="9.01">8</tspan></text>
<text transform="rotate(0.25 273.90 871.95)"><tspan x="256.89" y="872.93" font-size="10.95">−</tspan><tspan x="263.85" y="871.95" font-size="9.01">4</tspan><tspan x="269.25" y="871.95" font-size="9.01">0</tspan></text>
<text transform="rotate(0.25 273.90 892.15)"><tspan x="257.17" y="893.13" font-size="10.95">−</tspan><tspan x="264.13" y="892.15" font-size="9.01">4</tspan><tspan x="269.43" y="892.15" font-size="9.01">2</tspan></text>
<text transform="rotate(0.25 273.90 912.35)"><tspan x="256.80" y="913.33" font-size="10.95">−</tspan><tspan x="263.76" y="912.35" font-size="9.01">4</tspan><tspan x="269.17" y="912.35" font-size="9.01">4</tspan></text>
<path d="M280.00,921.4v3.06 M309.02,921.4v3.06 M338.03,921.4v3.06 M367.05,921.4v3.06 M396.07,921.4v3.06 M425.08,921.4v3.06 M454.10,921.4v3.06 M280.0,808.0h-3.06 M280.0,828.2h-3.06 M280.0,848.4h-3.06 M280.0,868.7h-3.06 M280.0,888.9h-3.06 M280.0,909.1h-3.06" stroke="#000" stroke-width="0.7" fill="none"/>
<text transform="translate(250.6,871.9) rotate(-90)"><tspan x="-0.62" y="0.00" font-size="9.01">l</tspan><tspan x="1.66" y="0.00" font-size="9.01">o</tspan><tspan x="6.90" y="0.00" font-size="9.01">g</tspan><tspan x="14.81" y="0.00" font-size="9.01" font-style="italic">X</tspan><tspan x="20.82" y="-1.10" font-size="4.66" stroke-width="0.031">2</tspan><tspan x="23.62" y="-1.10" font-size="4.66" stroke-width="0.031">2</tspan><tspan x="25.55" y="1.20" font-size="6.30" stroke-width="0.056">N</tspan><tspan x="30.14" y="1.20" font-size="6.30" stroke-width="0.056">e</tspan></text>
<text transform="translate(353.15,944.10)"><tspan x="-0.45" y="0.00" font-size="9.01" font-style="italic">M</tspan><tspan x="7.36" y="1.40" font-size="6.30" font-style="italic" stroke-width="0.056">r</tspan><tspan x="9.58" y="0.00" font-size="9.01">/</tspan><tspan x="11.35" y="0.00" font-size="9.01" font-style="italic">M</tspan></text><circle cx="376.35" cy="944.45" r="1.95" fill="none" stroke="#000" stroke-width="0.6"/><circle cx="376.35" cy="944.45" r="0.45"/>
<line x1="42.8" y1="11.1" x2="60.5" y2="11.1" stroke="#ff0000" stroke-width="1.27"/>
<text transform="rotate(0.25 67.60 14.40)"><tspan x="66.66" y="14.40" font-size="9.01">B</tspan><tspan x="72.51" y="14.40" font-size="9.01">M</tspan><tspan x="79.78" y="14.40" font-size="9.01">T</tspan><tspan x="85.27" y="14.40" font-size="9.01">1</tspan></text>
<line x1="42.8" y1="23.45" x2="60.5" y2="23.45" stroke="#008000" stroke-width="1.27" stroke-dasharray="4.65 2.0"/>
<text transform="rotate(0.25 67.60 26.75)"><tspan x="66.42" y="26.75" font-size="9.01">E</tspan><tspan x="72.05" y="26.75" font-size="9.01">M</tspan><tspan x="79.32" y="26.75" font-size="9.01">T</tspan><tspan x="84.81" y="26.75" font-size="9.01">1</tspan></text>
<line x1="42.8" y1="35.8" x2="60.5" y2="35.8" stroke="#0000ff" stroke-width="1.27" stroke-dasharray="1.26 2.0"/>
<text transform="rotate(0.25 67.60 39.10)"><tspan x="66.66" y="39.10" font-size="9.01">B</tspan><tspan x="72.51" y="39.10" font-size="9.01">M</tspan><tspan x="79.78" y="39.10" font-size="9.01">T</tspan><tspan x="85.21" y="39.10" font-size="9.01">2</tspan></text>
<line x1="42.8" y1="48.15" x2="60.5" y2="48.15" stroke="#bf00bf" stroke-width="1.27" stroke-dasharray="8.05 2.0 1.26 2.0"/>
<text transform="rotate(0.25 67.60 51.45)"><tspan x="66.42" y="51.45" font-size="9.01">E</tspan><tspan x="72.05" y="51.45" font-size="9.01">M</tspan><tspan x="79.32" y="51.45" font-size="9.01">T</tspan><tspan x="84.75" y="51.45" font-size="9.01">2</tspan></text>
<line x1="51.3" y1="493.6" x2="68.8" y2="493.6" stroke="#ff0000" stroke-width="1.27"/>
<text transform="rotate(0.25 75.80 496.90)"><tspan x="74.86" y="496.90" font-size="9.01">B</tspan><tspan x="80.71" y="496.90" font-size="9.01">M</tspan><tspan x="87.98" y="496.90" font-size="9.01">T</tspan><tspan x="93.47" y="496.90" font-size="9.01">1</tspan></text>
<line x1="51.3" y1="505.95" x2="68.8" y2="505.95" stroke="#008000" stroke-width="1.27" stroke-dasharray="4.65 2.0"/>
<text transform="rotate(0.25 75.80 509.25)"><tspan x="74.62" y="509.25" font-size="9.01">E</tspan><tspan x="80.25" y="509.25" font-size="9.01">M</tspan><tspan x="87.52" y="509.25" font-size="9.01">T</tspan><tspan x="93.01" y="509.25" font-size="9.01">1</tspan></text>
<line x1="51.3" y1="518.3" x2="68.8" y2="518.3" stroke="#0000ff" stroke-width="1.27" stroke-dasharray="1.26 2.0"/>
<text transform="rotate(0.25 75.80 521.60)"><tspan x="74.86" y="521.60" font-size="9.01">B</tspan><tspan x="80.71" y="521.60" font-size="9.01">M</tspan><tspan x="87.98" y="521.60" font-size="9.01">T</tspan><tspan x="93.41" y="521.60" font-size="9.01">2</tspan></text>
<line x1="51.3" y1="530.65" x2="68.8" y2="530.65" stroke="#bf00bf" stroke-width="1.27" stroke-dasharray="8.05 2.0 1.26 2.0"/>
<text transform="rotate(0.25 75.80 533.95)"><tspan x="74.62" y="533.95" font-size="9.01">E</tspan><tspan x="80.25" y="533.95" font-size="9.01">M</tspan><tspan x="87.52" y="533.95" font-size="9.01">T</tspan><tspan x="92.95" y="533.95" font-size="9.01">2</tspan></text>
<text transform="rotate(0.25 114.60 25.70)"><tspan x="113.50" y="25.70" font-size="10.60">B</tspan><tspan x="120.58" y="25.70" font-size="10.60">2</tspan><tspan x="127.06" y="25.70" font-size="10.60">:</tspan><tspan x="133.42" y="25.70" font-size="10.60">s</tspan><tspan x="139.06" y="25.70" font-size="10.60">t</tspan><tspan x="142.26" y="25.70" font-size="10.60">a</tspan><tspan x="149.13" y="25.70" font-size="10.60">r</tspan><tspan x="152.94" y="25.70" font-size="10.60">1</tspan></text>
<text transform="rotate(0.25 106.90 502.90)"><tspan x="105.80" y="502.90" font-size="10.60">B</tspan><tspan x="112.88" y="502.90" font-size="10.60">2</tspan><tspan x="119.36" y="502.90" font-size="10.60">:</tspan><tspan x="125.72" y="502.90" font-size="10.60">s</tspan><tspan x="131.36" y="502.90" font-size="10.60">t</tspan><tspan x="134.56" y="502.90" font-size="10.60">a</tspan><tspan x="141.43" y="502.90" font-size="10.60">r</tspan><tspan x="145.16" y="502.90" font-size="10.60">2</tspan></text>
<path d="M36.1,0.55H226M272,0.55H462" stroke="#000" stroke-width="1.1"/>
</svg>
</body></html>
